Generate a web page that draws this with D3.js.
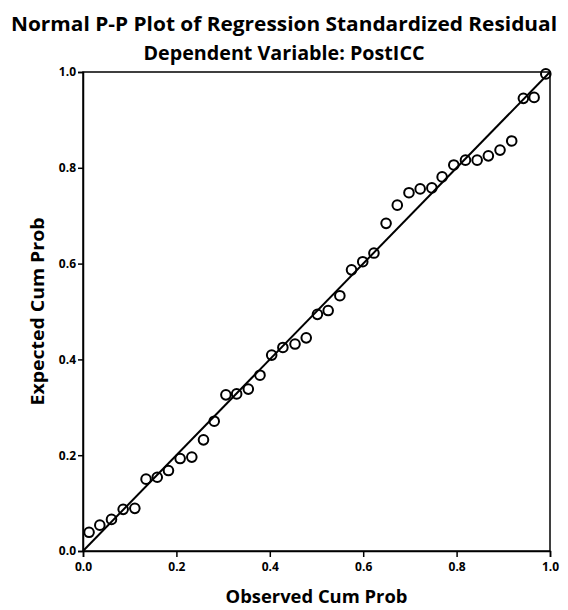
<!DOCTYPE html>
<html>
<head>
<meta charset="utf-8">
<script src="https://cdn.jsdelivr.net/npm/d3@7/dist/d3.min.js"></script>
<style>
  body { margin: 0; background: #fff; }
  svg text { font-family: "Open Sans", sans-serif; font-weight: bold; fill: #000; }
  .axis path, .axis line { stroke: #000; stroke-width: 1.5px; }
  .axis text { font-size: 12px; }
</style>
</head>
<body>
<svg width="568" height="610"></svg>
<script>
// observed cumulative probability (x) and expected cumulative probability (y)
var observed = [0.013, 0.036, 0.061, 0.086, 0.111, 0.135, 0.159, 0.183, 0.208, 0.233,
                0.258, 0.281, 0.306, 0.329, 0.354, 0.379, 0.404, 0.428, 0.454, 0.478,
                0.502, 0.525, 0.550, 0.575, 0.599, 0.623, 0.649, 0.673, 0.698, 0.722,
                0.747, 0.769, 0.794, 0.819, 0.844, 0.868, 0.893, 0.918, 0.943, 0.966, 0.991];
var expected = [0.039, 0.054, 0.066, 0.087, 0.089, 0.150, 0.154, 0.168, 0.193, 0.196,
                0.232, 0.271, 0.326, 0.328, 0.338, 0.367, 0.409, 0.425, 0.432, 0.445,
                0.494, 0.502, 0.533, 0.587, 0.604, 0.622, 0.684, 0.722, 0.748, 0.756,
                0.758, 0.781, 0.806, 0.816, 0.816, 0.825, 0.837, 0.856, 0.945, 0.947, 0.996];
var tickValues = [0, 0.2, 0.4, 0.6, 0.8, 1.0];

var titleText = "Normal P-P Plot of Regression Standardized Residual";
var subtitleText = "Dependent Variable: PostICC";
var xTitle = "Observed Cum Prob";
var yTitle = "Expected Cum Prob";

var svg = d3.select("svg"),
    margin = {top: 72, right: 18, bottom: 59, left: 83},
    width = +svg.attr("width") - margin.left - margin.right,
    height = +svg.attr("height") - margin.top - margin.bottom,
    g = svg.append("g").attr("transform", "translate(" + margin.left + "," + margin.top + ")");

var x = d3.scaleLinear().domain([0, 1]).range([0, width]);
var y = d3.scaleLinear().domain([0, 1]).range([height, 0]);

// frame (top and right edges)
g.append("rect")
    .attr("width", width)
    .attr("height", height)
    .attr("fill", "none")
    .attr("stroke", "#000")
    .attr("stroke-width", 1.5);

g.append("g")
    .attr("class", "axis")
    .attr("transform", "translate(0," + height + ")")
    .call(d3.axisBottom(x).tickValues(tickValues).tickFormat(d3.format(".1f")).tickSize(6).tickPadding(5));

g.append("g")
    .attr("class", "axis")
    .call(d3.axisLeft(y).tickValues(tickValues).tickFormat(d3.format(".1f")).tickSize(5).tickPadding(2));

// reference line
g.append("line")
    .attr("x1", x(0)).attr("y1", y(0))
    .attr("x2", x(1)).attr("y2", y(1))
    .attr("stroke", "#000")
    .attr("stroke-width", 2);

// points
g.selectAll(".pt")
    .data(observed)
    .enter().append("circle")
    .attr("class", "pt")
    .attr("cx", d => x(d))
    .attr("cy", (d, i) => y(expected[i]))
    .attr("r", 4.8)
    .attr("fill", "none")
    .attr("stroke", "#000")
    .attr("stroke-width", 2);

// titles
svg.append("text")
    .attr("x", 284).attr("y", 31)
    .attr("text-anchor", "middle")
    .attr("textLength", 546)
    .attr("lengthAdjust", "spacingAndGlyphs")
    .style("font-size", "19px")
    .text(titleText);

svg.append("text")
    .attr("x", 284).attr("y", 60)
    .attr("text-anchor", "middle")
    .attr("textLength", 281)
    .attr("lengthAdjust", "spacingAndGlyphs")
    .style("font-size", "19px")
    .text(subtitleText);

svg.append("text")
    .attr("x", margin.left + width / 2)
    .attr("y", 603)
    .attr("text-anchor", "middle")
    .attr("textLength", 182)
    .attr("lengthAdjust", "spacingAndGlyphs")
    .style("font-size", "17px")
    .text(xTitle);

svg.append("text")
    .attr("transform", "rotate(-90)")
    .attr("x", -(margin.top + height / 2))
    .attr("y", 44)
    .attr("text-anchor", "middle")
    .attr("textLength", 188)
    .attr("lengthAdjust", "spacingAndGlyphs")
    .style("font-size", "17px")
    .text(yTitle);
</script>
</body>
</html>
